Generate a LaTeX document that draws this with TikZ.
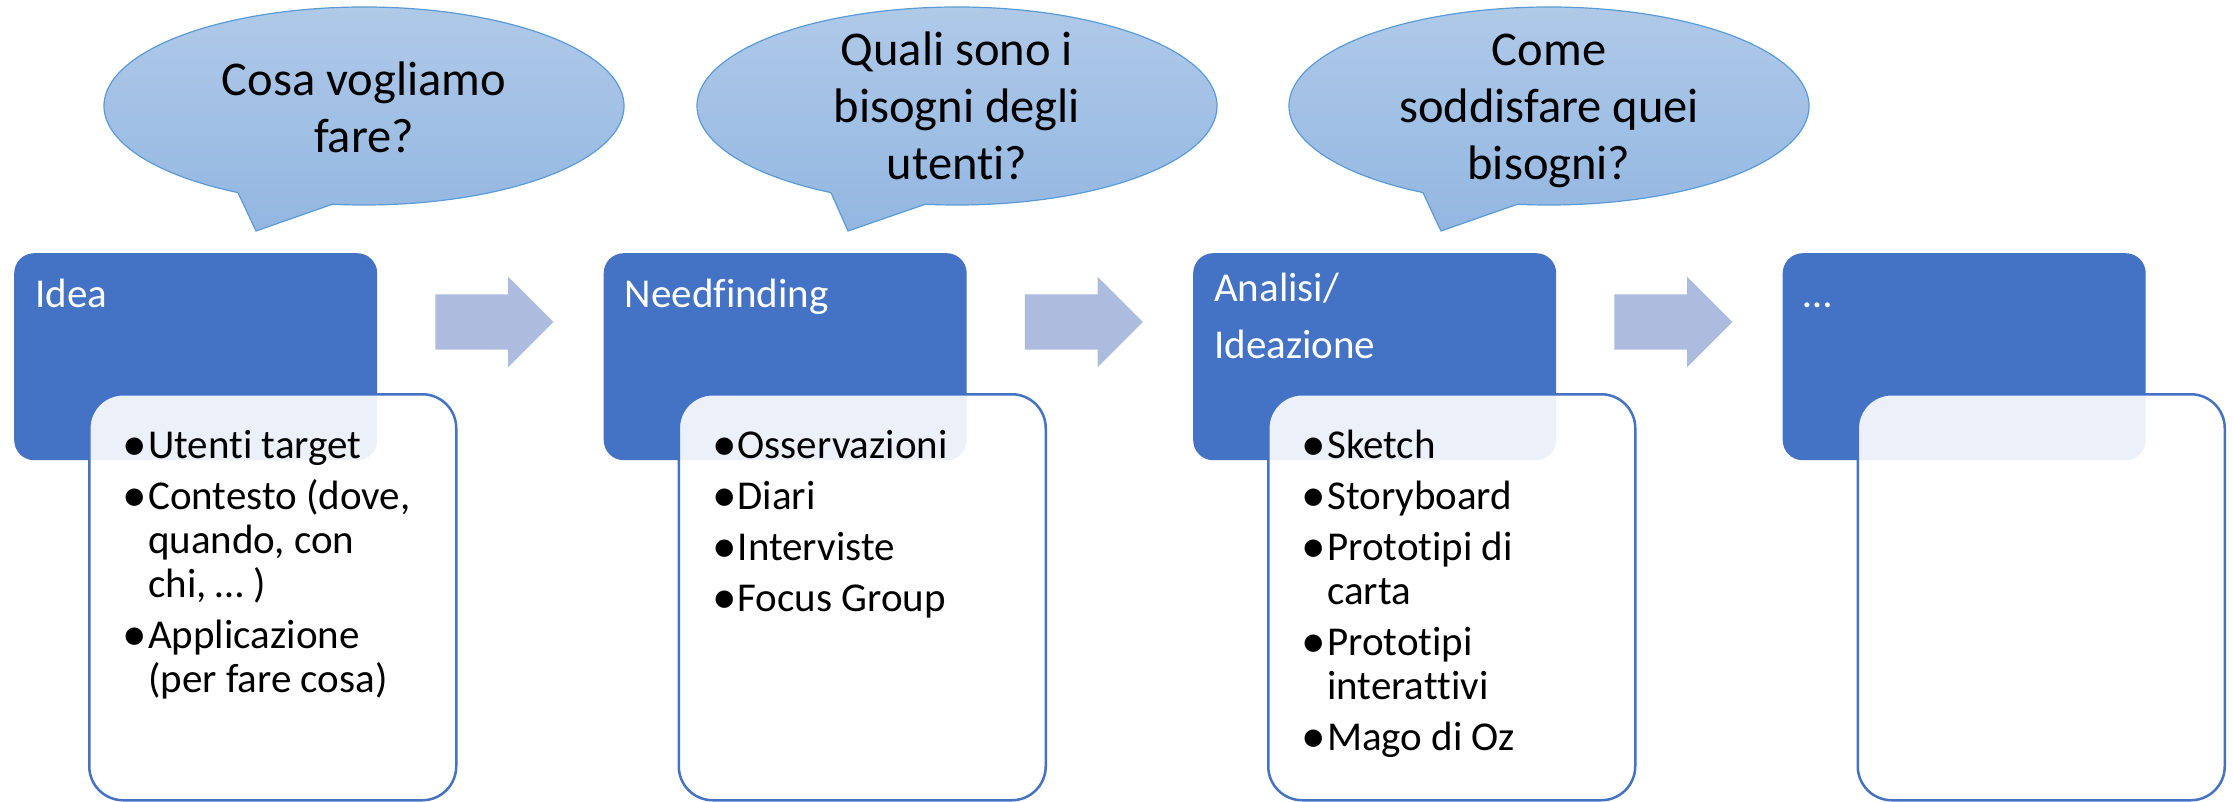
\documentclass[tikz,border=0pt]{standalone}
\usepackage{graphicx}
\usepackage{fontspec}
\setmainfont{Carlito}[Ligatures=NoCommon]
\usetikzlibrary{shapes.arrows, positioning, calc}

\definecolor{stageblue}{RGB}{68, 114, 196}
\definecolor{flowgray}{RGB}{173, 187, 223}
\definecolor{bubbletop}{RGB}{177, 202, 233}
\definecolor{bubblebot}{RGB}{147, 183, 225}
\definecolor{bubbleline}{RGB}{91, 155, 213}

\tikzset{
  stagebox/.style={fill=stageblue, rounded corners=20pt, minimum width=363pt, minimum height=207pt, anchor=north west, inner sep=0pt},
  listbox/.style={draw=stageblue, line width=2.5pt, fill=white, fill opacity=0.9, rounded corners=34pt, minimum width=367pt, minimum height=406pt, anchor=north west, inner sep=0pt},
  stagetitle/.style={text=white, anchor=north west, inner sep=0pt, align=left, font=\fontsize{41}{44}\selectfont},
  itemlist/.style={anchor=north west, inner sep=0pt, align=left, font=\fontsize{41}{44}\selectfont},
  question/.style={anchor=north, inner sep=0pt, align=center, font=\fontsize{48.5}{57}\selectfont},
  bubble/.style={draw=bubbleline, line width=1.2pt, top color=bubbletop, bottom color=bubblebot},
  flowarrow/.style={single arrow, anchor=tail, fill=flowgray, text height=27.5pt, text depth=27.5pt, text width=0pt, minimum height=118pt, minimum width=90pt, single arrow head extend=17.5pt, inner sep=0pt}
}
\newcommand{\ts}{\rule{0pt}{0.8em}}
\newcommand{\bul}{\makebox[21pt][l]{\hspace*{8pt}\makebox[0pt][c]{\raisebox{-2.5pt}[0pt][0pt]{\scalebox{1.2}{•}}}}}
\newcommand{\ind}{\hspace*{21pt}}

\begin{document}
\begin{tikzpicture}[x=1pt, y=-1pt]
  \useasboundingbox (0,0) rectangle (2233,802);

  % speech bubbles
  \coordinate (q1) at (364,106);
  \coordinate (q1tip) at (256,231);
  \draw[bubble] ($(q1)+(119:260 and 99)$) arc[start angle=119, end angle=457, x radius=260, y radius=99] -- (q1tip) -- cycle;
  \node[question] (q1text) at (364,56.2) {\ts Cosa vogliamo\\fare?};

  \coordinate (q2) at (957,106);
  \coordinate (q2tip) at (848,231);
  \draw[bubble] ($(q2)+(119:260 and 99)$) arc[start angle=119, end angle=457, x radius=260, y radius=99] -- (q2tip) -- cycle;
  \node[question] (q2text) at (957,26.2) {\ts Quali sono i\\bisogni degli\\utenti?};

  \coordinate (q3) at (1549,106);
  \coordinate (q3tip) at (1441,231);
  \draw[bubble] ($(q3)+(119:260 and 99)$) arc[start angle=119, end angle=457, x radius=260, y radius=99] -- (q3tip) -- cycle;
  \node[question] (q3text) at (1549,26.2) {\ts Come\\soddisfare quei\\bisogni?};

  % stages
  \node[stagebox] (idea) at (14,253) {};
  \node[stagebox] (need) at (603.5,253) {};
  \node[stagebox] (anal) at (1193,253) {};
  \node[stagebox] (more) at (1782.5,253) {};

  \node[stagetitle] (ideatitle) at (35,274.2) {\ts Idea};
  \node[stagetitle] (needtitle) at (624.5,274.2) {\ts Needfinding};
  \node[stagetitle] (analtitle) at (1214,268.2) {\ts Analisi/\\[13pt]Ideazione};
  \node[stagetitle] (moretitle) at (1803.5,274.2) {\ts …};

  % arrows between stages
  \node[flowarrow] (step1) at ($(idea.north east)!0.5!(need.north west)+(-55.25,69)$) {};
  \node[flowarrow] (step2) at ($(need.north east)!0.5!(anal.north west)+(-55.25,69)$) {};
  \node[flowarrow] (step3) at ($(anal.north east)!0.5!(more.north west)+(-55.25,69)$) {};

  % detail boxes
  \node[listbox] (idealist) at (88,393) {};
  \node[listbox] (needlist) at (677.5,393) {};
  \node[listbox] (anallist) at (1267,393) {};
  \node[listbox] (morelist) at (1856.5,393) {};

  \node[itemlist] (ideaitems) at (127,425.2) {\ts\bul Utenti target\\[7pt]
    \bul Contesto (dove,\\ \ind quando, con\\ \ind chi, … )\\[7pt]
    \bul Applicazione\\ \ind (per fare cosa)};
  \node[itemlist] (needitems) at (716.5,425.2) {\ts\bul Osservazioni\\[7pt]
    \bul Diari\\[7pt] \bul Interviste\\[7pt] \bul Focus Group};
  \node[itemlist] (analitems) at (1306,425.2) {\ts\bul Sketch\\[7pt]
    \bul Storyboard\\[7pt] \bul Prototipi di\\ \ind carta\\[7pt]
    \bul Prototipi\\ \ind interattivi\\[7pt] \bul Mago di Oz};
\end{tikzpicture}
\end{document}
